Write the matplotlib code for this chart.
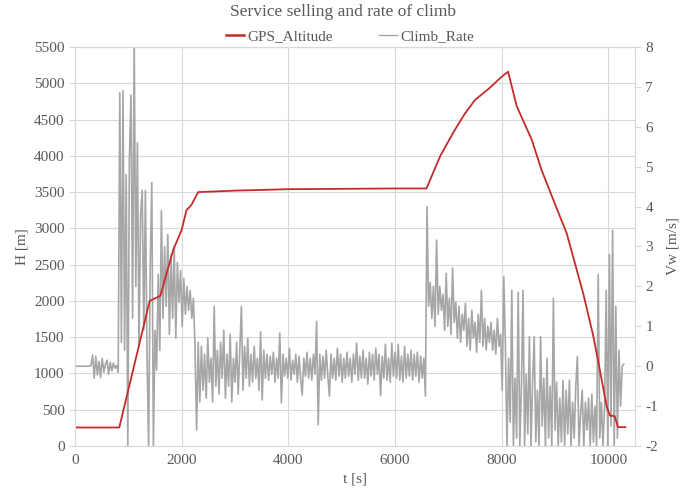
import numpy as np
import matplotlib
matplotlib.use("Agg")
import matplotlib.pyplot as plt

plt.rcParams['font.family'] = ['Liberation Serif', 'DejaVu Serif']
plt.rcParams['axes.unicode_minus'] = False

# GPS altitude track: time [s] and height [m]
alt_time = [0, 830, 1400, 1600, 1840, 2000, 2090, 2180, 2310, 3000, 4000, 5000,
            6000, 6590, 6850, 7100, 7300, 7500, 7750, 8000, 8120, 8280, 8400,
            8560, 8750, 8970, 9220, 9530, 9720, 9840, 9970, 10030, 10120, 10180,
            10320]
alt_height = [255, 255, 2000, 2070, 2700, 2980, 3250, 3320, 3500, 3520, 3540, 3545,
              3550, 3550, 4000, 4330, 4570, 4770, 4920, 5090, 5160, 4690, 4490,
              4230, 3800, 3390, 2930, 2100, 1510, 1050, 540, 420, 410, 260,
              260]

# Rate of climb [m/s], sampled every 30 s from t = 0
climb_dt = 30
climb_rate = [
    0.0, 0.0, 0.0, 0.0, 0.0, 0.0, 0.0, 0.0, 0.0, 0.0,
    0.02, 0.28, -0.3, 0.25, -0.22, 0.12, -0.28, 0.2, -0.15, 0.05,
    0.15, -0.2, 0.1, -0.12, 0.08, -0.05, 0.02, -0.15, 6.85, 0.6,
    6.9, 0.4, 4.8, -2.0, 5.2, 6.8, 1.2, 8.2, 2.0, 5.6,
    0.5, 3.8, 4.4, 0.9, 4.4, 0.3, -2.0, 2.5, 4.6, -2.0,
    0.9, -0.1, 2.3, 0.4, 3.9, 1.2, 3.0, 1.5, 3.3, 0.8,
    2.8, 1.2, 3.0, 0.7, 2.6, 1.6, 2.4, 1.0, 2.2, 1.3,
    2.0, 1.4, 1.9, 1.2, 1.7, 0.5, -1.6, 0.6, -0.9, 0.5,
    -0.6, 0.3, -0.8, 0.7, -0.4, 0.2, -0.9, 1.5, -0.5, 0.4,
    -0.7, 0.6, -0.3, 0.9, -0.8, 0.3, -0.5, 0.8, -0.9, 0.2,
    -0.4, 0.6, -0.7, 0.4, 1.5, -0.6, 0.5, -0.3, 0.7, -0.5,
    0.3, -0.4, 0.5, -0.3, 0.2, -0.6, 0.86, -0.85, 0.4, -0.3,
    0.3, -0.35, 0.25, -0.2, 0.35, -0.4, 0.2, -0.3, 0.83, -0.92,
    0.3, -0.25, 0.2, -0.3, 0.45, -0.35, 0.15, -0.2, 0.3, -0.4,
    0.25, -0.3, -0.72, 0.2, -0.25, 0.35, -0.3, 0.2, -0.35, 0.3,
    -0.2, 1.12, -1.47, 0.3, -0.35, 0.25, -0.3, 0.4, -0.25, -0.75,
    0.3, -0.3, 0.2, -0.35, 0.45, -0.25, 0.3, -0.4, 0.2, -0.3,
    0.35, -0.25, 0.2, -0.4, 0.3, -0.2, 0.58, -0.35, 0.25, -0.3,
    0.4, -0.3, 0.2, -0.45, 0.35, -0.25, 0.3, -0.35, 0.45, -0.2,
    0.3, -0.74, 0.25, -0.3, 0.55, -0.35, 0.2, -0.4, 0.58, -0.25,
    0.35, -0.3, 0.55, -0.35, 0.25, -0.4, 0.5, -0.3, 0.3, -0.25,
    0.4, -0.35, 0.3, -0.25, 0.35, -0.4, 0.25, -0.3, 0.2, -0.75,
    4.0, 1.5, 2.1, 1.2, 2.0, 1.0, 3.16, 1.3, 2.0, 1.4,
    1.8, 0.9, 2.33, 1.0, 1.7, 0.8, 2.46, 1.1, 1.6, 0.7,
    1.5, 0.6, 1.3, 0.9, 1.58, 0.5, 1.2, 0.4, 1.4, 0.7,
    1.1, 0.35, 1.3, 0.6, 1.9, 0.5, 1.2, 0.4, 1.0, 0.6,
    1.1, 0.4, 0.9, 0.3, 1.2, 0.5, 0.8, -0.6, 2.24, 0.5,
    -2.0, 0.2, -1.4, 1.9, -2.0, -0.3, -1.8, 1.85, -2.0, -0.5,
    1.9, -2.0, -0.2, -1.7, 0.74, -2.0, -0.4, 0.74, -1.9, -0.6,
    -2.0, 0.74, -1.5, -0.3, -2.0, 0.2, -1.8, -0.5, -2.0, 1.7,
    -1.6, -0.4, -2.0, -0.8, -1.9, -0.35, -2.0, -0.6, -1.7, -0.35,
    -2.0, -0.9, -1.8, -0.5, 0.24, -2.0, -1.2, -0.6, -2.0, -0.9,
    -1.6, -0.8, -2.0, -0.7, -1.9, -1.0, -2.0, 2.3, -1.8, -0.9,
    -2.0, -1.0, 1.9, -2.0, 2.8, -1.5, 3.4, -2.0, 1.5, -1.8,
    0.4, -1.0, 0.0, 0.05,
]
climb_time = np.arange(len(climb_rate)) * climb_dt

x_ticks = [0, 2000, 4000, 6000, 8000, 10000]
h_ticks = list(range(0, 5501, 500))
v_ticks = list(range(-2, 9))

text_col = '#595959'
grid_col = '#d9d9d9'
red = '#c42b2b'
gray = '#a6a6a6'

fig = plt.figure(figsize=(6.86, 4.97), dpi=100)
ax1 = fig.add_axes([75 / 686, 1 - 446 / 497, 560 / 686, 399 / 497])
ax2 = ax1.twinx()

ax1.set_xlim(0, 10500)
ax1.set_ylim(0, 5500)
ax2.set_ylim(-2, 8)
ax1.set_xticks(x_ticks)
ax1.set_yticks(h_ticks)
ax2.set_yticks(v_ticks)

ax1.grid(True, color=grid_col, linewidth=0.8)
ax1.set_axisbelow(True)

# climb rate on the secondary axis, altitude drawn on top with the primary scale
ax2.plot(climb_time, climb_rate, color=gray, linewidth=1.2, label='Climb_Rate')
ax2.plot(alt_time, alt_height, color=red, linewidth=1.3, label='GPS_Altitude',
         transform=ax1.transData)

for ax in (ax1, ax2):
    for s in ax.spines.values():
        s.set_color(grid_col)
        s.set_linewidth(0.8)
ax1.tick_params(axis='x', length=0, labelsize=11, labelcolor=text_col, pad=6)
ax1.tick_params(axis='y', length=4, color=grid_col, labelsize=11, labelcolor=text_col)
ax2.tick_params(axis='y', length=4, color=grid_col, labelsize=11, labelcolor=text_col)

ax1.set_xlabel('t [s]', fontsize=11, color=text_col, labelpad=4)
ax1.set_ylabel('H [m]', fontsize=11, color=text_col, labelpad=4)
ax2.set_ylabel('Vw [m/s]', fontsize=11, color=text_col, labelpad=6)

fig.text(0.5, 1 - 12 / 497, 'Service selling and rate of climb', ha='center',
         va='center', fontsize=12.5, color=text_col)

handles = [plt.Line2D([], [], color=red, linewidth=1.8),
           plt.Line2D([], [], color=gray, linewidth=1.0)]
fig.legend(handles, ['GPS_Altitude', 'Climb_Rate'], loc='center',
           bbox_to_anchor=(0.51, 1 - 36 / 497), ncol=2, frameon=False,
           fontsize=11, handlelength=1.2, handletextpad=0.2, columnspacing=3.0,
           labelcolor=text_col)

fig.savefig('out.png', dpi=100)
